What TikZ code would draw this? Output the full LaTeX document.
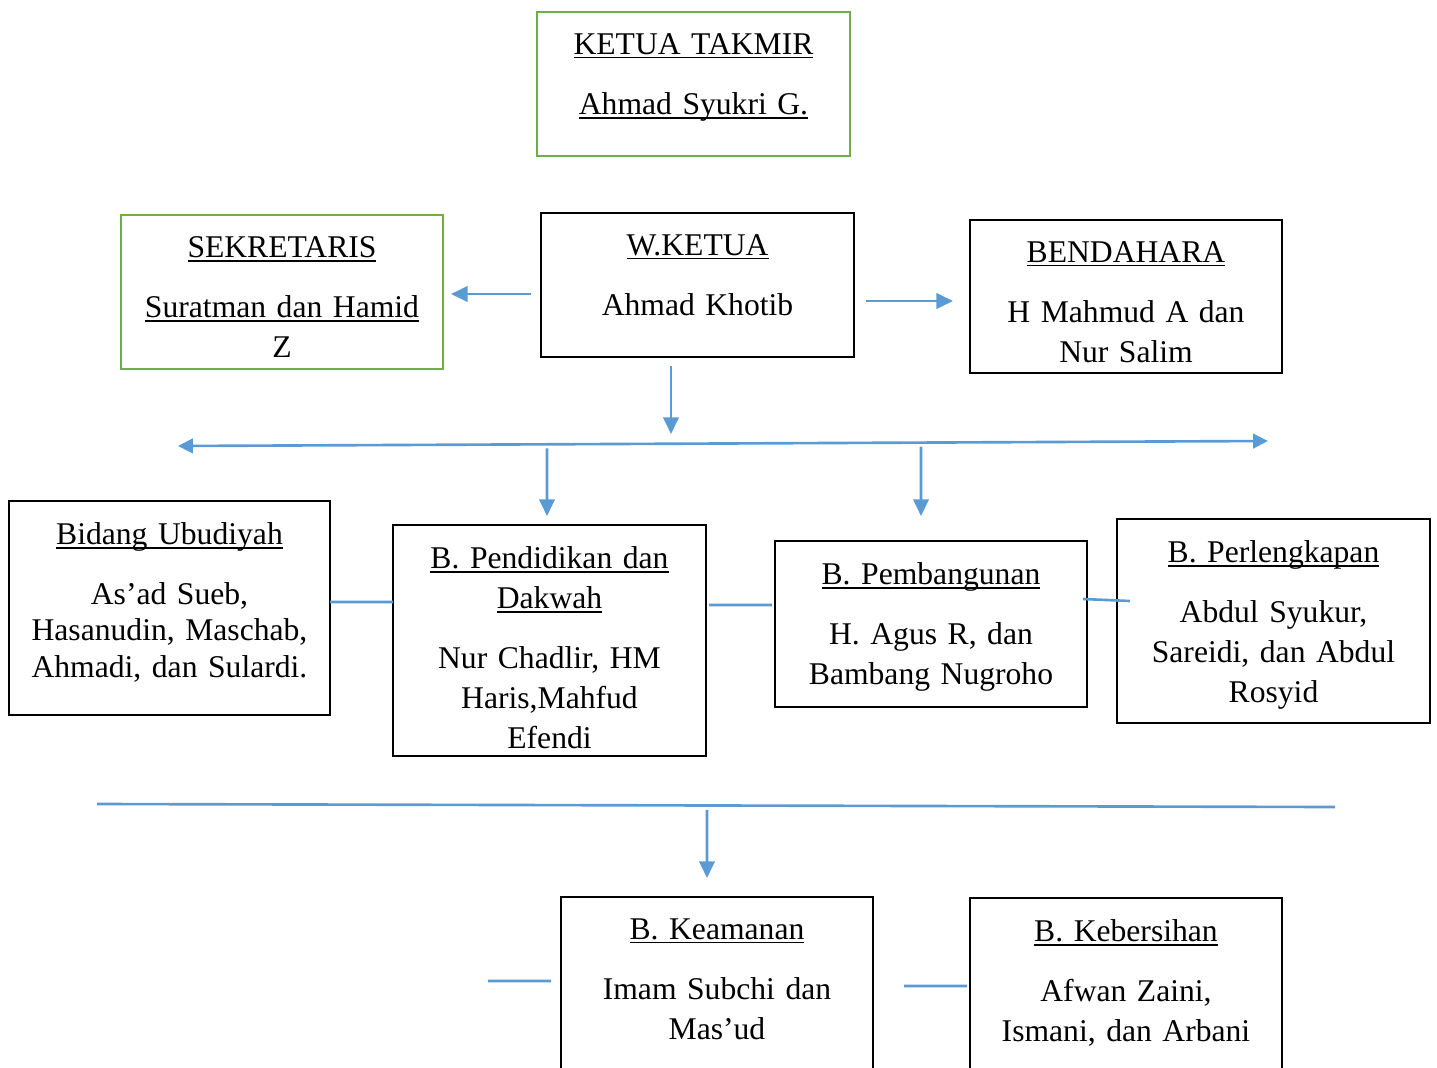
\documentclass[tikz,border=0pt]{standalone}
\usepackage{fontspec}
\setmainfont{Liberation Serif}
\usetikzlibrary{fit}
\usetikzlibrary{calc}
\usetikzlibrary{arrows.meta}
\definecolor{linkblue}{HTML}{5B9BD5}
\definecolor{leadgreen}{HTML}{70AD47}
\newcommand{\orgfont}{\fontsize{18pt}{22.8pt}\selectfont}
\newsavebox{\ulbox}
\newcommand{\uln}[1]{\leavevmode\sbox{\ulbox}{#1}\rlap{\rule[-2.4pt]{\wd\ulbox}{0.8pt}}\usebox{\ulbox}}

\begin{document}
\begin{tikzpicture}[
  x=0.02cm, y=-0.02cm,
  unit/.style={draw, rectangle, line width=1.4pt, inner sep=0pt, outer sep=0pt},
  leader/.style={unit, draw=leadgreen},
  heading/.style={anchor=north, yshift=-0.42cm, inner sep=0pt, text width=6.1cm, align=center, font=\orgfont},
  link/.style={linkblue, line width=1.5pt},
  arr/.style={link, -{Triangle[length=9.5pt, width=8.8pt]}},
]

\useasboundingbox (0,0) rectangle (1437,1068);

% top level
\node (ketua) [leader, fit={(537,12) (850,156)},
  label={[heading]north:{\uln{KETUA TAKMIR}\\[11.4pt]\uln{Ahmad Syukri G.}}}] {};
\node (sekretaris) [leader, fit={(121,215) (443,369)},
  label={[heading]north:{\uln{SEKRETARIS}\\[11.4pt]\uln{Suratman dan Hamid}\\Z}}] {};
\node (wketua) [unit, fit={(541,213) (854,357)},
  label={[heading]north:{\uln{W.KETUA}\\[11.4pt]Ahmad Khotib}}] {};
\node (bendahara) [unit, fit={(970,220) (1282,373)},
  label={[heading]north:{\uln{BENDAHARA}\\[11.4pt]H Mahmud A dan\\Nur Salim}}] {};

% bidang row
\node (ubudiyah) [unit, fit={(9,501) (330,715)},
  label={[heading]north:{\uln{Bidang Ubudiyah}\\[11.4pt]As’ad Sueb,\\[-2pt]Hasanudin, Maschab,\\[-2pt]Ahmadi, dan Sulardi.}}] {};
\node (pendidikan) [unit, fit={(393,525) (706,756)},
  label={[heading]north:{\uln{B. Pendidikan dan}\\\uln{Dakwah}\\[11.4pt]Nur Chadlir, HM\\Haris,Mahfud\\Efendi}}] {};
\node (pembangunan) [unit, fit={(775,541) (1087,707)},
  label={[heading]north:{\uln{B. Pembangunan}\\[11.4pt]H. Agus R, dan\\Bambang Nugroho}}] {};
\node (perlengkapan) [unit, fit={(1117,519) (1430,723)},
  label={[heading]north:{\uln{B. Perlengkapan}\\[11.4pt]Abdul Syukur,\\Sareidi, dan Abdul\\Rosyid}}] {};

% bottom row
\node (keamanan) [unit, fit={(561,897) (873,1100)},
  label={[heading]north:{\uln{B. Keamanan}\\[11.4pt]Imam Subchi dan\\Mas’ud}}] {};
\node (kebersihan) [unit, fit={(970,898) (1282,1100)},
  label={[heading]north:{\uln{B. Kebersihan}\\[11.4pt]Afwan Zaini,\\Ismani, dan Arbani}}] {};

\coordinate (busL) at (178,446);
\coordinate (busR) at (1268,441);
\coordinate (bus2L) at (97,804);
\coordinate (bus2R) at (1335,807);
\coordinate (stub) at (488,981);

\draw[arr] ($(wketua.west)+(-10,9)$) -- ($(sekretaris.east)+(8,2)$);
\draw[arr] ($(wketua.east)+(12,16)$) -- ($(bendahara.west)+(-17,4.5)$);
\draw[arr] ($(wketua.south)+(-26.5,9)$) -- ($(wketua.south)+(-26.5,77)$);

\draw[link, {Triangle[length=8.5pt, width=8.3pt]}-{Triangle[length=8.5pt, width=8.3pt]}]
  (busL) -- (busR);
\draw[arr] ($(busL)!0.3385!(busR)+(0,4)$) -- ($(pendidikan.north)+(-2.5,-9)$);
\draw[arr] ($(busL)!0.6817!(busR)+(0,4)$) -- ($(pembangunan.north)+(-10,-25)$);

\draw[link] ($(ubudiyah.east)+(0,-6)$) -- ($(pendidikan.west)+(0,-38.5)$);
\draw[link] ($(pendidikan.east)+(3,-35.5)$) -- ($(pembangunan.west)+(-3,-19)$);
\draw[link] ($(pembangunan.east)+(-4,-25)$) -- ($(perlengkapan.west)+(13,-20)$);

\draw[link] (bus2L) -- (bus2R);
\draw[arr] ($(bus2L)!0.4927!(bus2R)+(0,4.5)$) -- ($(keamanan.north)+(-10,-19)$);
\draw[link] (stub) -- ($(keamanan.west)+(-10,-17.5)$);
\draw[link] ($(keamanan.east)+(31,-12.5)$) -- ($(kebersihan.west)+(-3,-13)$);
\end{tikzpicture}
\end{document}
